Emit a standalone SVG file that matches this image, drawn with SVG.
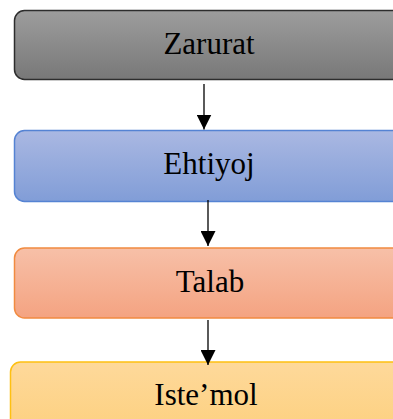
<svg xmlns="http://www.w3.org/2000/svg" width="393" height="419" viewBox="0 0 393 419">
<defs>
<linearGradient id="gGray" x1="0" y1="0" x2="0" y2="1"><stop offset="0" stop-color="#9d9d9d"/><stop offset="1" stop-color="#787878"/></linearGradient>
<linearGradient id="gBlue" x1="0" y1="0" x2="0" y2="1"><stop offset="0" stop-color="#aab8e2"/><stop offset="1" stop-color="#819dd7"/></linearGradient>
<linearGradient id="gOrange" x1="0" y1="0" x2="0" y2="1"><stop offset="0" stop-color="#f7c0a8"/><stop offset="1" stop-color="#f4a381"/></linearGradient>
<linearGradient id="gYellow" x1="0" y1="0" x2="0" y2="1"><stop offset="0" stop-color="#fed99b"/><stop offset="1" stop-color="#fdcf7b"/></linearGradient>
<marker id="arr" markerWidth="15" markerHeight="15" viewBox="0 0 15 15" refX="15" refY="7.5" orient="auto" markerUnits="userSpaceOnUse">
<path d="M0,0 L15,7.5 L0,15 Z" fill="#000"/>
</marker>
</defs>
<style>
text{font-family:"Liberation Serif","Times New Roman",serif;font-size:31px;fill:#000;text-anchor:middle}
.box{stroke-width:1.5}
.conn{stroke:#000;stroke-width:1.3;fill:none}
</style>
<g id="zarurat">
<rect class="box" x="14.5" y="10.5" width="400" height="69" rx="10" fill="url(#gGray)" stroke="#2d2d2d"/>
<text x="209" y="54">Zarurat</text>
</g>
<g id="ehtiyoj">
<rect class="box" x="14.5" y="130.5" width="400" height="71" rx="10" fill="url(#gBlue)" stroke="#5583d3"/>
<text x="209" y="174">Ehtiyoj</text>
</g>
<g id="talab">
<rect class="box" x="14.5" y="248" width="400" height="70" rx="10" fill="url(#gOrange)" stroke="#f18b40"/>
<text x="210" y="292">Talab</text>
</g>
<g id="istemol">
<rect class="box" x="10.5" y="362" width="400" height="80" rx="10" fill="url(#gYellow)" stroke="#fec012"/>
<text x="206" y="405">Iste’mol</text>
</g>
<g id="connectors">
<line class="conn" x1="204" y1="84" x2="204" y2="129.5" marker-end="url(#arr)"/>
<line class="conn" x1="208" y1="200" x2="208" y2="246" marker-end="url(#arr)"/>
<line class="conn" x1="208" y1="320" x2="208" y2="365" marker-end="url(#arr)"/>
</g>
</svg>
